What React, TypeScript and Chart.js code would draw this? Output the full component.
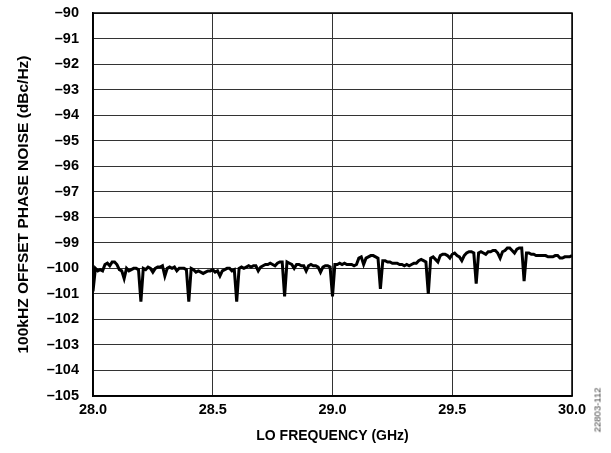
import React, { useEffect, useRef } from 'react';
import { Chart, registerables } from 'chart.js';

Chart.register(...registerables);

// LO frequency sweep: 28.00 GHz to 30.00 GHz in 0.01 GHz steps
const FREQ_START_GHZ = 28.0;
const FREQ_STEP_GHZ = 0.01;

// 100 kHz offset phase noise (dBc/Hz), one row per 0.1 GHz
const PHASE_NOISE = [
  -100.9, -100.0, -100.1, -100.05, -100.1, -99.85, -99.8, -99.9, -99.75, -99.75, // 28.0x
  -99.85, -100.05, -100.1, -100.4, -100.0, -100.1, -100.05, -100.0, -100.0, -100.05, // 28.1x
  -101.3, -100.0, -100.05, -99.95, -100.0, -100.15, -100.0, -99.95, -99.95, -99.9, // 28.2x
  -100.3, -100.0, -99.95, -100.0, -99.95, -100.1, -100.0, -100.0, -100.0, -100.05, // 28.3x
  -101.3, -100.0, -100.05, -100.15, -100.1, -100.15, -100.2, -100.15, -100.1, -100.1, // 28.4x
  -100.05, -100.15, -100.1, -100.3, -100.1, -100.05, -100.0, -100.0, -100.1, -100.05, // 28.5x
  -101.3, -100.0, -99.95, -100.0, -99.95, -99.9, -99.95, -99.9, -99.9, -100.1, // 28.6x
  -99.95, -99.9, -99.85, -99.85, -99.8, -99.85, -99.9, -99.8, -99.75, -99.75, // 28.7x
  -101.1, -99.75, -99.8, -99.85, -100.0, -99.85, -99.85, -99.9, -99.9, -100.1, // 28.8x
  -99.9, -99.85, -99.9, -99.9, -99.95, -100.15, -99.95, -99.9, -99.9, -99.95, // 28.9x
  -101.1, -99.85, -99.85, -99.8, -99.85, -99.8, -99.85, -99.85, -99.85, -99.9, // 29.0x
  -99.85, -99.6, -99.55, -99.85, -99.6, -99.55, -99.5, -99.5, -99.55, -99.6, // 29.1x
  -100.8, -99.7, -99.7, -99.75, -99.75, -99.8, -99.8, -99.8, -99.85, -99.85, // 29.2x
  -99.9, -99.85, -99.9, -99.85, -99.8, -99.8, -99.7, -99.65, -99.7, -99.75, // 29.3x
  -101.0, -99.6, -99.55, -99.65, -99.75, -99.5, -99.45, -99.45, -99.5, -99.6, // 29.4x
  -99.45, -99.4, -99.5, -99.55, -99.7, -99.5, -99.4, -99.35, -99.35, -99.4, // 29.5x
  -100.6, -99.4, -99.35, -99.4, -99.45, -99.35, -99.35, -99.3, -99.3, -99.4, // 29.6x
  -99.6, -99.35, -99.3, -99.2, -99.2, -99.3, -99.4, -99.25, -99.2, -99.2, // 29.7x
  -100.5, -99.4, -99.4, -99.45, -99.45, -99.5, -99.5, -99.5, -99.5, -99.5, // 29.8x
  -99.55, -99.55, -99.55, -99.5, -99.5, -99.6, -99.6, -99.55, -99.55, -99.55, // 29.9x
  -99.5, // 30.00
];

const X_MIN = 28.0;
const X_MAX = 30.0;
const X_STEP = 0.5;
const Y_MIN = -105;
const Y_MAX = -90;
const Y_STEP = 1;

const X_TITLE = 'LO FREQUENCY (GHz)';
const Y_TITLE = '100kHZ OFFSET PHASE NOISE (dBc/Hz)';
const FIGURE_ID = '22803-112';

const FONT_FAMILY = '"Liberation Sans", Arial, sans-serif';

const frameBorder = {
  id: 'frameBorder',
  afterDatasetsDraw(chart: any) {
    const { ctx, chartArea } = chart;
    ctx.save();
    ctx.strokeStyle = '#000';
    ctx.lineWidth = 1.5;
    ctx.strokeRect(chartArea.left, chartArea.top, chartArea.right - chartArea.left, chartArea.bottom - chartArea.top);
    ctx.restore();
  },
};

export default function App() {
  const canvasRef = useRef<HTMLCanvasElement | null>(null);

  useEffect(() => {
    document.body.style.margin = '0';
    const points = PHASE_NOISE.map((v, i) => ({ x: FREQ_START_GHZ + i * FREQ_STEP_GHZ, y: v }));
    const chart = new Chart(canvasRef.current as HTMLCanvasElement, {
      type: 'line',
      data: {
        datasets: [
          {
            data: points,
            borderColor: '#000',
            borderWidth: 3,
            pointRadius: 0,
            tension: 0,
            fill: false,
          },
        ],
      },
      options: {
        animation: false,
        responsive: false,
        maintainAspectRatio: false,
        layout: { padding: { top: 13, right: 39, left: 0, bottom: 0 } },
        plugins: { legend: { display: false }, tooltip: { enabled: false } },
        scales: {
          x: {
            type: 'linear',
            min: X_MIN,
            max: X_MAX,
            afterFit: (s: any) => {
              s.height = 57;
              s.paddingLeft = 0;
              s.paddingRight = 0;
            },
            ticks: {
              stepSize: X_STEP,
              padding: 5,
              color: '#000',
              font: { family: FONT_FAMILY, size: 14.5, weight: 'bold' },
              callback: (v: any) => Number(v).toFixed(1),
            },
            grid: { color: '#333', lineWidth: 1, drawTicks: false },
            border: { color: '#000', width: 1.5 },
            title: {
              display: true,
              text: X_TITLE,
              color: '#000',
              font: { family: FONT_FAMILY, size: 14, weight: 'bold' },
              padding: { top: 8, bottom: 8 },
            },
          },
          y: {
            type: 'linear',
            min: Y_MIN,
            max: Y_MAX,
            afterFit: (s: any) => {
              s.width = 93;
              s.paddingTop = 0;
              s.paddingBottom = 0;
            },
            ticks: {
              stepSize: Y_STEP,
              padding: 14,
              color: '#000',
              font: { family: FONT_FAMILY, size: 14.5, weight: 'bold' },
              callback: (v: any) => (Number(v) < 0 ? '\u2013' + Math.abs(Number(v)) : String(v)),
            },
            grid: { color: '#333', lineWidth: 1, drawTicks: false },
            border: { color: '#000', width: 1.5 },
            title: {
              display: true,
              text: Y_TITLE,
              color: '#000',
              font: { family: FONT_FAMILY, size: 15.5, weight: 'bold' },
              padding: { top: 14, bottom: 14 },
            },
          },
        },
      },
      plugins: [frameBorder],
    });
    return () => chart.destroy();
  }, []);

  return (
    <div style={{ position: 'absolute', left: 0, top: 0, width: 611, height: 453, background: '#fff' }}>
      <canvas ref={canvasRef} width={611} height={453} style={{ display: 'block' }} />
      <span
        style={{
          position: 'absolute',
          left: 597,
          top: 410,
          transform: 'translate(-50%, -50%) rotate(-90deg)',
          fontFamily: FONT_FAMILY,
          fontSize: 9.5,
          color: '#444',
          whiteSpace: 'nowrap',
        }}
      >
        {FIGURE_ID}
      </span>
    </div>
  );
}
